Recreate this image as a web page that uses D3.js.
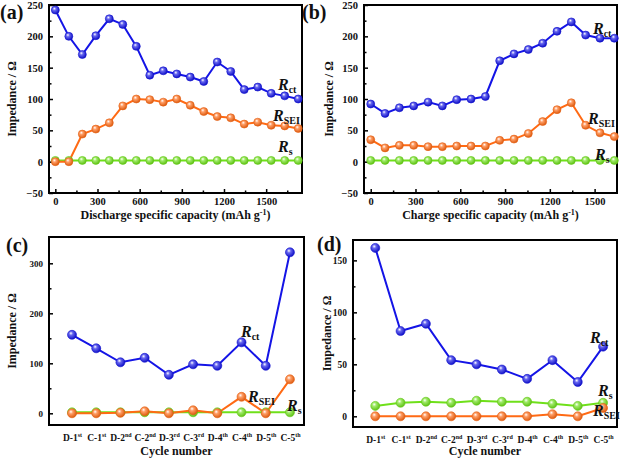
<!DOCTYPE html>
<html><head><meta charset="utf-8">
<script src="https://cdn.jsdelivr.net/npm/d3@7/dist/d3.min.js"></script>
<style>
body{margin:0;background:#fff}
</style></head>
<body>
<svg id="c" width="620" height="460"></svg>
<script>
// ---- data ----
const capA = [0,96,192,288,384,480,576,672,768,864,960,1056,1152,1248,1344,1440,1536,1632,1728];
const rctA = [242,200,171,201,228,219,184,138,145,140,135,128,159,144,115,119,109,105,100];
const rseiA = [0,0,44,52,62,89,100,99,95,100,90,80,72,70,60,63,58,57,53];
const rsA = [2,2,2,2,2,2,2,2,2,2,2,2,2,2,2,2,2,2,2];

const capB = [0,96,192,288,384,480,576,672,768,864,960,1056,1152,1248,1344,1440,1536,1632];
const rctB = [92,77,86,89,95,89,99,100,104,161,172,179,189,208,223,202,197,197];
const rseiB = [35,22,26,26,24,24,25,25,25,34,36,45,64,83,94,58,46,40];
const rsB = [2,2,2,2,2,2,2,2,2,2,2,2,2,2,2,2,2,2];

const cycles = [["D-1","st"],["C-1","st"],["D-2","nd"],["C-2","nd"],["D-3","rd"],["C-3","rd"],["D-4","th"],["C-4","th"],["D-5","th"],["C-5","th"]];
const rctC = [157,130,102,111,77,98,95,142,95,322];
const rseiC = [0,0,1,4,0,6,0,33,0,68];
const rsC = [2,2,2,2,2,2,2,2,2,2];

const rctD = [162,82,89,54,50,45,36,54,33,67];
const rseiD = [0,0,0,0,0,0,0,2,0,8];
const rsD = [10,13,14,13,15,14,14,12,10,13];

const yTicksAB = [-50,0,50,100,150,200,250];
const xTicksAB = [0,300,600,900,1200,1500];
const yTicksC = [0,100,200,300];
const yTicksD = [0,50,100,150];

// ---- drawing ----
const FONT = "Liberation Serif";
const svg = d3.select("#c");
const colors = {ct:"#1414e6", sei:"#ff6a14", s:"#6fe01a"};
const defs = svg.append("defs");
Object.entries(colors).forEach(([k,c])=>{
  const g = defs.append("radialGradient").attr("id","g_"+k).attr("cx","40%").attr("cy","40%").attr("r","60%").attr("fx","38%").attr("fy","32%");
  g.append("stop").attr("offset","0%").attr("stop-color","#ffffff");
  g.append("stop").attr("offset","35%").attr("stop-color",d3.interpolateRgb(c,"#fff")(0.35));
  g.append("stop").attr("offset","100%").attr("stop-color",d3.color(c).darker(0.4));
});

function panel(o){
  const g = svg.append("g");
  const x = d3.scaleLinear().domain(o.xd).range(o.xr);
  const y = d3.scaleLinear().domain(o.yd).range(o.yr);
  g.append("rect").attr("x",o.xr[0]).attr("y",o.yr[1]).attr("width",o.xr[1]-o.xr[0]).attr("height",o.yr[0]-o.yr[1])
    .attr("fill","none").attr("stroke","#000").attr("stroke-width",2);
  const ya = g.append("g").attr("transform",`translate(${o.xr[0]},0)`)
    .call(d3.axisLeft(y).tickValues(o.yt).tickSize(-4).tickPadding(6).tickFormat(d3.format("d")));
  ya.select(".domain").remove();
  ya.selectAll("line").attr("stroke-width",1.5);
  ya.selectAll("text").style("font-size",o.tfs+"px");
  const yam = g.append("g").attr("transform",`translate(${o.xr[0]},0)`)
    .call(d3.axisLeft(y).tickValues(o.ytm).tickSize(-2.5).tickFormat(""));
  yam.select(".domain").remove();
  yam.selectAll("line").attr("stroke-width",1.5);
  if(o.cat){
    const xa = g.append("g").attr("transform",`translate(0,${o.yr[0]})`)
      .call(d3.axisBottom(x).tickValues(d3.range(o.cat.length)).tickSize(0).tickPadding(9).tickFormat(""));
    xa.select(".domain").remove();
    xa.selectAll(".tick text").each(function(d){
      const t = d3.select(this).style("font-size","9.5px");
      t.append("tspan").text(o.cat[d][0]);
      t.append("tspan").attr("dy","-4").style("font-size","6px").text(o.cat[d][1]);
    });
  } else {
    const xa = g.append("g").attr("transform",`translate(0,${o.yr[0]})`)
      .call(d3.axisBottom(x).tickValues(o.xt).tickSize(-4).tickPadding(5).tickFormat(d3.format("d")));
    xa.select(".domain").remove();
    xa.selectAll("line").attr("stroke-width",1.5);
    xa.selectAll("text").style("font-size",o.tfs+"px");
    const xam = g.append("g").attr("transform",`translate(0,${o.yr[0]})`)
      .call(d3.axisBottom(x).tickValues(o.xtm).tickSize(-2.5).tickFormat(""));
    xam.select(".domain").remove();
    xam.selectAll("line").attr("stroke-width",1.5);
  }
  g.append("text").attr("transform",`translate(${o.ytx},${(o.yr[0]+o.yr[1])/2}) rotate(-90)`)
    .attr("text-anchor","middle").style("font-size","12px").text("Impedance / Ω");
  const xt = g.append("text").attr("x",(o.xr[0]+o.xr[1])/2).attr("y",o.xty).attr("text-anchor","middle").style("font-size","12px");
  if(o.unit){
    xt.append("tspan").text(o.xtitle+" (mAh g");
    xt.append("tspan").attr("dy","-4").style("font-size","8px").text("-1");
    xt.append("tspan").attr("dy","4").text(")");
  } else xt.text(o.xtitle);
  g.append("text").attr("x",o.lab[0]).attr("y",o.lab[1]).style("font-size","20px").text(o.label);
  const xs = o.cat ? d3.range(o.cat.length) : o.xv;
  o.series.forEach(s=>{
    const pts = s.v.map((v,i)=>[xs[i],v]);
    g.append("path").datum(pts).attr("fill","none").attr("stroke",colors[s.k]).attr("stroke-width",2)
      .attr("d",d3.line().x(d=>x(d[0])).y(d=>y(d[1])));
  });
  o.series.forEach(s=>{
    const pts = s.v.map((v,i)=>[xs[i],v]);
    g.selectAll(null).data(pts).enter().append("circle")
      .attr("cx",d=>x(d[0])).attr("cy",d=>y(d[1])).attr("r",o.r)
      .attr("fill",`url(#g_${s.k})`).attr("stroke",d3.color(colors[s.k]).darker(0.3)).attr("stroke-width",0.6);
  });
  o.names.forEach(n=>{
    const t = g.append("text").attr("x",n[1]).attr("y",n[2]).style("font-size","16px");
    t.append("tspan").style("font-style","italic").text("R");
    t.append("tspan").attr("dy",n[4]||"3").style("font-size","10px").text(n[0]);
  });
  g.selectAll("text").attr("font-family",FONT).style("font-family",FONT).style("font-weight","bold").attr("fill","#111");
}

panel({xd:[-45,1755],xr:[49,302],yd:[-50,250],yr:[193,5],yt:yTicksAB,ytm:d3.range(-25,250,50),tfs:10.5,
  xt:xTicksAB,xtm:d3.range(150,1755,300),xv:capA,ytx:16,xty:219,xtitle:"Discharge specific capacity",unit:true,
  label:"(a)",lab:[0,19],r:4,
  series:[{k:"s",v:rsA},{k:"sei",v:rseiA},{k:"ct",v:rctA}],
  names:[["ct",278,90],["SEI",273,121],["s",278,152]]});

panel({xd:[-45,1650],xr:[364,617],yd:[-50,250],yr:[193,5],yt:yTicksAB,ytm:d3.range(-25,250,50),tfs:10.5,
  xt:xTicksAB,xtm:d3.range(150,1650,300),xv:capB,ytx:333,xty:219,xtitle:"Charge specific capacity",unit:true,
  label:"(b)",lab:[302,19],r:4,
  series:[{k:"s",v:rsB},{k:"sei",v:rseiB},{k:"ct",v:rctB}],
  names:[["ct",593,34],["SEI",588,124],["s",595,160]]});

panel({xd:[-0.95,9.58],xr:[49,304],yd:[-23.4,352.6],yr:[425,237],yt:yTicksC,ytm:[50,150,250],tfs:9,
  cat:cycles,ytx:16,xty:455,xtitle:"Cycle number",
  label:"(c)",lab:[6,252],r:4.5,
  series:[{k:"s",v:rsC},{k:"sei",v:rseiC},{k:"ct",v:rctC}],
  names:[["ct",241,337],["SEI",248,402],["s",287,411]]});

panel({xd:[-0.88,9.55],xr:[353,617],yd:[-10.3,169.6],yr:[427,240],yt:yTicksD,ytm:[25,75,125],tfs:9.5,
  cat:cycles,ytx:331,xty:455,xtitle:"Cycle number",
  label:"(d)",lab:[317,251],r:4.5,
  series:[{k:"s",v:rsD},{k:"sei",v:rseiD},{k:"ct",v:rctD}],
  names:[["ct",590,343],["s",598,396],["SEI",593,416,"6"]]});
</script>
</body></html>
